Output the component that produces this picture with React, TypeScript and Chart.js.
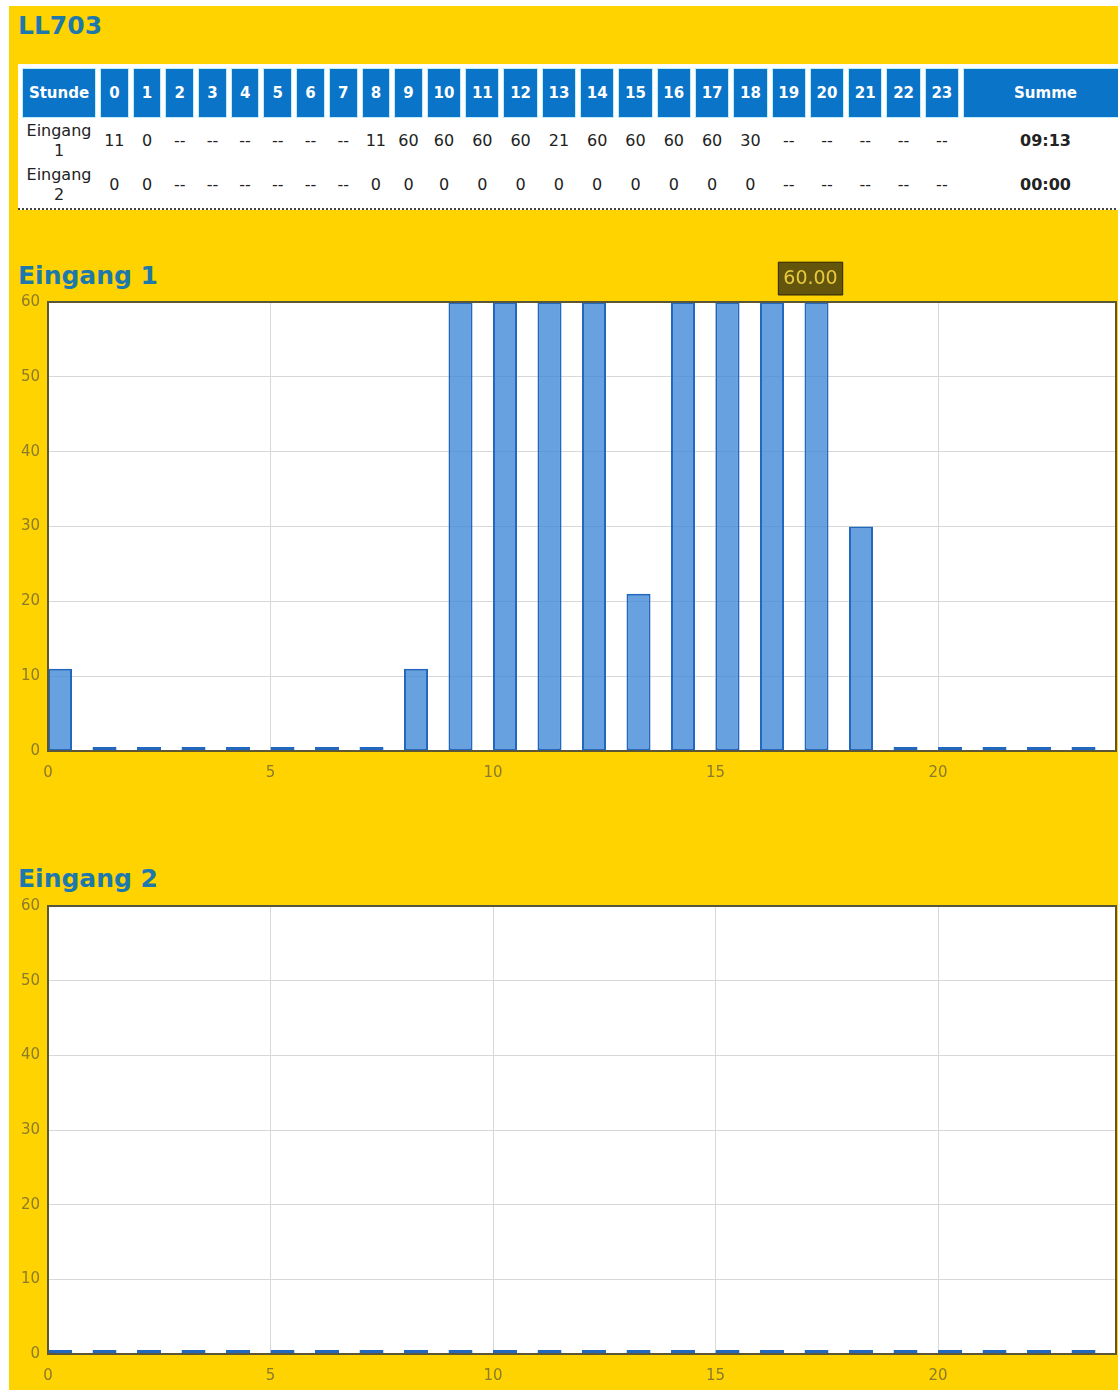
import React, { useEffect, useRef } from 'react';
import { Chart, registerables, Tooltip } from 'chart.js';

Chart.register(...registerables);

// ---------- data ----------
const stationName = 'LL703';
const headerFirst = 'Stunde';
const headerLast = 'Summe';
const hours = [0, 1, 2, 3, 4, 5, 6, 7, 8, 9, 10, 11, 12, 13, 14, 15, 16, 17, 18, 19, 20, 21, 22, 23];
const rowLabels = ['Eingang 1', 'Eingang 2'];
const tableEingang1 = ['11', '0', '--', '--', '--', '--', '--', '--', '11', '60', '60', '60', '60', '21', '60', '60', '60', '60', '30', '--', '--', '--', '--', '--'];
const tableEingang2 = ['0', '0', '--', '--', '--', '--', '--', '--', '0', '0', '0', '0', '0', '0', '0', '0', '0', '0', '0', '--', '--', '--', '--', '--'];
const tableSums = ['09:13', '00:00'];
const eingang1Values = [11, 0, 0, 0, 0, 0, 0, 0, 11, 60, 60, 60, 60, 21, 60, 60, 60, 60, 30, 0, 0, 0, 0, 0];
const eingang2Values = [0, 0, 0, 0, 0, 0, 0, 0, 0, 0, 0, 0, 0, 0, 0, 0, 0, 0, 0, 0, 0, 0, 0, 0];
const xMin = 0;
const xMax = 24;
const xStep = 5;
const yMin = 0;
const yMax = 60;
const yStep = 10;
const tooltipIndex = 17;

// ---------- styles ----------
const YELLOW = '#ffd300';
const TITLE_COLOR = '#1d79ac';
const HEADER_BG = '#0a74c9';
const TICK_COLOR = '#8a7b2d';
const GRID_COLOR = '#d8d8d8';
const FRAME_COLOR = '#5c5638';
const BAR_FILL = 'rgba(60,135,215,0.78)';
const BAR_BORDER = '#2268bf';
const BAR_W = 0.54;
const FONT = "'DejaVu Sans', Verdana, sans-serif";

(Tooltip as any).positioners.aboveBar = function (items: any[]) {
  if (!items || !items.length) return false;
  const el = items[0].element;
  return { x: el.x - 6, y: this.chart.chartArea.top - 7 };
};

const framePlugin = {
  id: 'frame',
  beforeDraw(chart: any) {
    const { ctx, chartArea: a } = chart;
    ctx.save();
    ctx.fillStyle = '#ffffff';
    ctx.fillRect(a.left, a.top, a.right - a.left, a.bottom - a.top);
    ctx.restore();
  },
  afterDatasetsDraw(chart: any) {
    const { ctx, chartArea: a } = chart;
    ctx.save();
    ctx.strokeStyle = FRAME_COLOR;
    ctx.lineWidth = 2;
    ctx.strokeRect(a.left, a.top, a.right - a.left, a.bottom - a.top);
    ctx.restore();
  },
};

type BarProps = { values: number[]; padTop: number; height: number; top: number; showTip?: number };

function HourBars({ values, padTop, height, top, showTip }: BarProps) {
  const ref = useRef<HTMLCanvasElement | null>(null);
  useEffect(() => {
    if (!ref.current) return;
    const chart = new Chart(ref.current, {
      type: 'bar',
      data: {
        datasets: [
          {
            data: hours.map((h, i) => ({ x: h + BAR_W / 2, y: values[i] })),
            backgroundColor: BAR_FILL,
            borderColor: BAR_BORDER,
            borderWidth: 2,
            borderSkipped: false,
            minBarLength: 4,
            barPercentage: BAR_W,
            categoryPercentage: 1,
          } as any,
        ],
      },
      options: {
        animation: false,
        responsive: false,
        events: [],
        layout: { padding: { top: padTop, right: 2, left: 0, bottom: 0 } },
        plugins: {
          legend: { display: false },
          title: { display: false },
          tooltip: {
            enabled: true,
            position: 'aboveBar' as any,
            xAlign: 'center',
            yAlign: 'bottom',
            backgroundColor: 'rgba(40,36,18,0.72)',
            borderColor: 'rgba(30,26,10,0.9)',
            borderWidth: 1,
            bodyColor: '#e9c93c',
            bodyFont: { family: FONT, size: 19 },
            padding: { top: 5, bottom: 5, left: 5, right: 5 },
            cornerRadius: 0,
            caretSize: 0,
            caretPadding: 0,
            displayColors: false,
            callbacks: {
              title: () => '',
              label: (c: any) => c.parsed.y.toFixed(2),
            },
          },
        },
        scales: {
          x: {
            type: 'linear',
            min: xMin,
            max: xMax,
            offset: false,
            ticks: { stepSize: xStep, padding: 13, color: TICK_COLOR, font: { family: FONT, size: 15 } },
            grid: { color: GRID_COLOR, drawTicks: false, offset: false },
            border: { display: false },
            afterBuildTicks: (s: any) => {
              s.ticks = s.ticks.filter((t: any) => t.value % xStep === 0);
            },
            afterFit: (s: any) => {
              s.height = 44;
            },
          },
          y: {
            type: 'linear',
            min: yMin,
            max: yMax,
            ticks: { stepSize: yStep, padding: 8, color: TICK_COLOR, font: { family: FONT, size: 15 } },
            grid: { color: GRID_COLOR, drawTicks: false },
            border: { display: false },
            afterFit: (s: any) => {
              s.width = 39;
            },
          },
        } as any,
      },
      plugins: [framePlugin],
    });
    if (showTip !== undefined && chart.tooltip) {
      const meta = chart.getDatasetMeta(0);
      const el: any = meta.data[showTip];
      chart.tooltip.setActiveElements([{ datasetIndex: 0, index: showTip }], { x: el.x, y: el.y });
      chart.update();
    }
    return () => chart.destroy();
  }, []);
  return (
    <canvas
      ref={ref}
      width={1109}
      height={height}
      style={{ position: 'absolute', left: 0, top, width: 1109, height }}
    />
  );
}

const titleStyle: React.CSSProperties = {
  position: 'absolute',
  left: 9,
  margin: 0,
  fontFamily: FONT,
  fontWeight: 'bold',
  fontSize: 25,
  lineHeight: '29px',
  color: TITLE_COLOR,
  whiteSpace: 'nowrap',
};

const thStyle = (w?: number): React.CSSProperties => ({
  boxSizing: 'border-box',
  width: w,
  height: 50,
  padding: 0,
  background: HEADER_BG,
  color: '#ffffff',
  border: '1px solid #bdeefa',
  fontFamily: FONT,
  fontWeight: 'bold',
  fontSize: 15,
  textAlign: 'center',
  verticalAlign: 'middle',
});

const tdStyle: React.CSSProperties = {
  boxSizing: 'border-box',
  height: 42,
  padding: '0 2px',
  fontFamily: FONT,
  fontSize: 16,
  lineHeight: '20px',
  color: '#222222',
  textAlign: 'center',
  verticalAlign: 'middle',
};

export default function App() {
  useEffect(() => {
    document.body.style.overflow = 'hidden';
  }, []);
  const rows = [tableEingang1, tableEingang2];
  return (
    <div
      style={{
        position: 'absolute',
        left: 9,
        top: 6,
        width: 1109,
        height: 1384,
        background: YELLOW,
        overflow: 'hidden',
      }}
    >
      <div style={{ ...titleStyle, top: 5 }}>{stationName}</div>
      <div
        style={{
          position: 'absolute',
          left: 9,
          top: 58,
          width: 1114,
          background: '#ffffff',
          borderBottom: '2px dotted #444',
          paddingTop: 2,
        }}
      >
        <table
          style={{
            borderCollapse: 'separate',
            borderSpacing: '4px 2px',
            tableLayout: 'fixed',
            width: 1114,
          }}
        >
          <thead>
            <tr>
              <th style={thStyle(74)}>{headerFirst}</th>
              {hours.map((h) => (
                <th key={h} style={thStyle(String(h).length > 1 ? 34.3 : 28.7)}>
                  {h}
                </th>
              ))}
              <th style={thStyle()}>{headerLast}</th>
            </tr>
          </thead>
          <tbody>
            {rows.map((r, ri) => (
              <tr key={ri}>
                <td style={tdStyle}>{rowLabels[ri]}</td>
                {r.map((v, i) => (
                  <td key={i} style={{ ...tdStyle, padding: 0 }}>
                    {v}
                  </td>
                ))}
                <td style={{ ...tdStyle, fontWeight: 'bold' }}>{tableSums[ri]}</td>
              </tr>
            ))}
          </tbody>
        </table>
      </div>
      <div style={{ ...titleStyle, top: 255 }}>{rowLabels[0]}</div>
      <HourBars values={eingang1Values} padTop={47} height={540} top={249} showTip={tooltipIndex} />
      <div style={{ ...titleStyle, top: 858 }}>{rowLabels[1]}</div>
      <HourBars values={eingang2Values} padTop={36} height={528} top={864} />
    </div>
  );
}
